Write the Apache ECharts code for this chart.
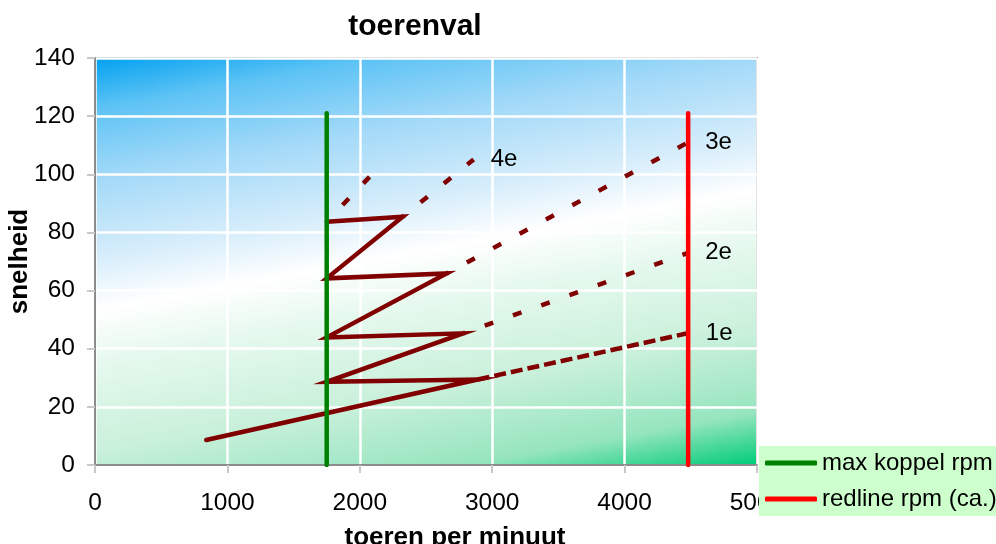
<!DOCTYPE html>
<html>
<head>
<meta charset="utf-8">
<script src="https://cdn.jsdelivr.net/npm/echarts@6/dist/echarts.min.js"></script>
<style>
  html, body { margin: 0; padding: 0; background: #ffffff; }
  #chart { width: 996px; height: 544px; }
</style>
</head>
<body>
<div id="chart"></div>
<script>
const FONT = "'Liberation Sans', Arial, Helvetica, sans-serif";

// Shift sequence: pull through a gear, then change up at constant speed back to 1750 rpm
const shiftRpm   = [840, 2890, 1750, 2780, 1750, 2656, 1750, 2324, 1750];
const shiftSpeed = [8.6, 29.4, 28.6, 45.3, 43.9, 65.9, 64.2, 85.4, 83.7];

// Remaining range of each gear (dashed)
const gear1Rpm = [2890, 4485], gear1Speed = [29.4, 45.4];
const gear2Rpm = [2780, 4480], gear2Speed = [45.3, 73.0];
const gear3Rpm = [2656, 4480], gear3Speed = [65.9, 111.0];
const gear4Rpm = [2324, 2860], gear4Speed = [85.4, 105.1];
const gear5Rpm = [1750, 2120], gear5Speed = [83.7, 101.3];
const gearNames = ['1e', '2e', '3e', '4e', ''];

// Vertical reference lines
const koppelRpm  = [1750, 1750], koppelSpeed  = [0, 121];
const redlineRpm = [4480, 4480], redlineSpeed = [0, 121];

// Axis ranges
const xMin = 0, xMax = 5000, xStep = 1000;
const yMin = 0, yMax = 140, yStep = 20;

const DARK_RED = '#800000';

function pairs(xs, ys) {
  return xs.map((x, i) => [x, ys[i]]);
}

function gearSeries(xs, ys, name) {
  return {
    type: 'line', name: 'gear ' + (name || '5e'), data: pairs(xs, ys),
    symbol: 'none', silent: true, z: 3,
    lineStyle: { color: DARK_RED, width: 4.5, type: [9, 21], dashOffset: 7, cap: 'butt' },
    endLabel: {
      show: !!name, formatter: name, distance: 17,
      color: '#000', fontFamily: FONT, fontSize: 24
    }
  };
}

const chart = echarts.init(document.getElementById('chart'), null, { renderer: 'canvas' });

const gearRpm = [gear1Rpm, gear2Rpm, gear3Rpm, gear4Rpm, gear5Rpm];
const gearSpeed = [gear1Speed, gear2Speed, gear3Speed, gear4Speed, gear5Speed];
const dashedSeries = gearRpm.map((r, i) => gearSeries(r, gearSpeed[i], gearNames[i]));
// first gear keeps a tighter dash
dashedSeries[0].lineStyle.type = [12, 5];
dashedSeries[0].lineStyle.dashOffset = 0;

chart.setOption({
  animation: false,
  backgroundColor: '#ffffff',
  textStyle: { fontFamily: FONT },
  title: {
    text: 'toerenval',
    left: 410, top: 7, textAlign: 'center',
    textStyle: { fontFamily: FONT, fontSize: 30, fontWeight: 'bold', color: '#000' }
  },
  legend: {
    orient: 'vertical',
    left: 759, top: 446,
    padding: [5, 10, 5, 6],
    itemGap: 12,
    itemWidth: 52, itemHeight: 5,
    icon: 'roundRect',
    backgroundColor: '#ccffcc',
    textStyle: { fontFamily: FONT, fontSize: 24, color: '#000', lineHeight: 24 },
    data: ['max koppel rpm', 'redline rpm (ca.)']
  },
  grid: {
    left: 95, right: 239, top: 58, bottom: 79,
    outerBoundsMode: 'none',
    containLabel: false,
    show: true,
    borderColor: '#8c8c8c', borderWidth: 2,
    backgroundColor: new echarts.graphic.LinearGradient(0, 0, 0.14, 1.25, [
      { offset: 0.00, color: '#00a0f0' },
      { offset: 0.10, color: '#5ec3f5' },
      { offset: 0.23, color: '#a2d9f8' },
      { offset: 0.38, color: '#d6edfb' },
      { offset: 0.48, color: '#ffffff' },
      { offset: 0.58, color: '#e6f9ee' },
      { offset: 0.75, color: '#c8f0da' },
      { offset: 0.90, color: '#96e5bf' },
      { offset: 1.00, color: '#00cc77' }
    ])
  },
  xAxis: {
    type: 'value', min: xMin, max: xMax, interval: xStep,
    name: 'toeren per minuut', nameLocation: 'middle', nameGap: 60,
    nameTextStyle: { fontFamily: FONT, fontSize: 26, fontWeight: 'bold', color: '#000', padding: [0, 0, 0, 58] },
    axisLine: { show: true, lineStyle: { color: '#8c8c8c', width: 2 } },
    axisTick: { show: true, length: 8, lineStyle: { color: '#c8c8c8', width: 2 } },
    axisLabel: { fontFamily: FONT, fontSize: 24.5, color: '#000', margin: 26, formatter: v => String(v) },
    splitLine: { show: true, lineStyle: { color: '#ffffff', width: 2.5 } }
  },
  yAxis: {
    type: 'value', min: yMin, max: yMax, interval: yStep,
    name: 'snelheid', nameLocation: 'middle', nameGap: 62, nameMoveOverlap: false,
    nameTextStyle: { fontFamily: FONT, fontSize: 26, fontWeight: 'bold', color: '#000' },
    axisLine: { show: true, lineStyle: { color: '#8c8c8c', width: 2 } },
    axisTick: { show: true, length: 8, lineStyle: { color: '#c8c8c8', width: 2 } },
    axisLabel: { fontFamily: FONT, fontSize: 24.5, color: '#000', margin: 20, formatter: v => String(v) },
    splitLine: { show: true, lineStyle: { color: '#ffffff', width: 2.5 } }
  },
  series: [
    {
      type: 'line', name: 'schakelen', data: pairs(shiftRpm, shiftSpeed),
      symbol: 'none', silent: true, z: 4,
      lineStyle: { color: DARK_RED, width: 4.5, cap: 'round', join: 'miter' }
    },
    ...dashedSeries,
    {
      type: 'line', name: 'max koppel rpm', data: pairs(koppelRpm, koppelSpeed),
      symbol: 'none', silent: true, z: 5,
      itemStyle: { color: '#008000' },
      lineStyle: { color: '#008000', width: 4.5, cap: 'round' }
    },
    {
      type: 'line', name: 'redline rpm (ca.)', data: pairs(redlineRpm, redlineSpeed),
      symbol: 'none', silent: true, z: 5,
      itemStyle: { color: '#ff0000' },
      lineStyle: { color: '#ff0000', width: 4.5, cap: 'round' }
    }
  ]
});
</script>
</body>
</html>
